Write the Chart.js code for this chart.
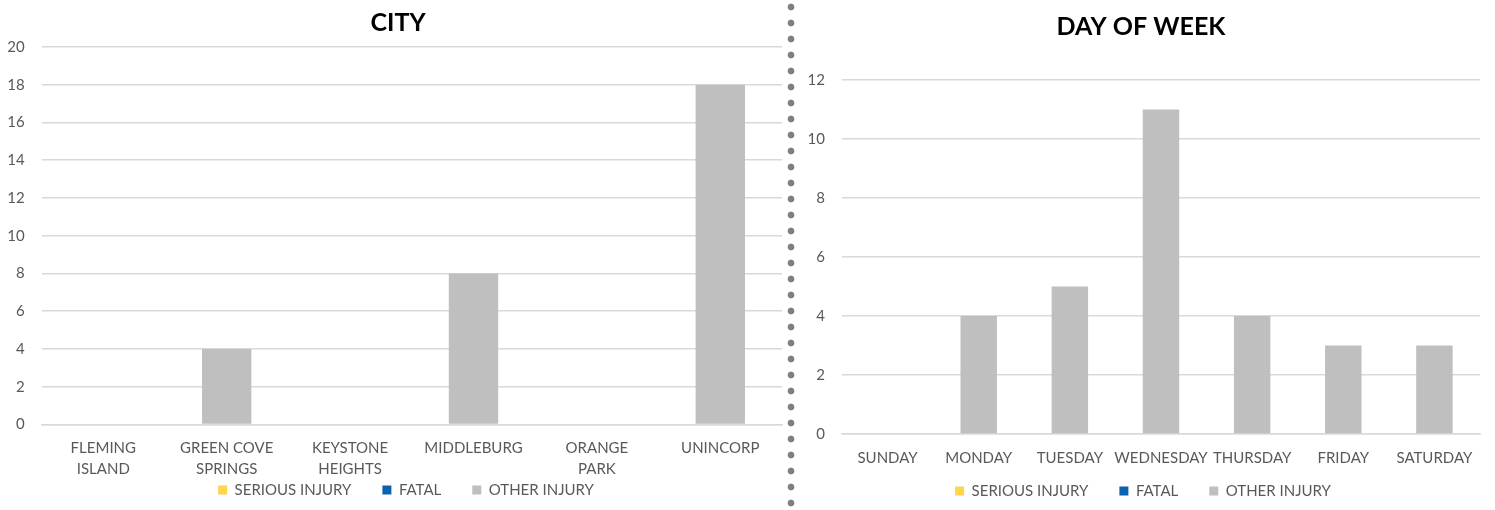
<!DOCTYPE html>
<html>
<head>
<meta charset="utf-8">
<script src="https://cdn.jsdelivr.net/npm/chart.js@4.4.1/dist/chart.umd.min.js"></script>
<style>
    html, body { margin: 0; padding: 0; background: #fff; }
    body { width: 1495px; height: 510px; position: relative; overflow: hidden; }
    .box { position: absolute; top: 0; height: 510px; }
    #cityBox { left: 0; width: 790px; }
    #dayBox { left: 800px; width: 695px; }
    .dots {
        position: absolute; left: 787px; top: -1px; width: 8px; height: 511px;
        background-image: radial-gradient(circle, #808080 3.1px, rgba(128,128,128,0) 3.7px);
        background-size: 8px 16px;
    }
</style>
</head>
<body>
<div class="box" id="cityBox"><canvas id="cityChart"></canvas></div>
<div class="dots"></div>
<div class="box" id="dayBox"><canvas id="dayChart"></canvas></div>
<script>
const SERIES_NAMES = ["SERIOUS INJURY", "FATAL", "OTHER INJURY"];
const SERIES_COLORS = ["#FFD44F", "#0B63B0", "#BFBFBF"];

const cityLabels = [["FLEMING", "ISLAND"], ["GREEN COVE", "SPRINGS"], ["KEYSTONE", "HEIGHTS"], "MIDDLEBURG", ["ORANGE", "PARK"], "UNINCORP"];
const citySerious = [0, 0, 0, 0, 0, 0];
const cityFatal = [0, 0, 0, 0, 0, 0];
const cityOther = [0, 4, 0, 8, 0, 18];

const dayLabels = ["SUNDAY", "MONDAY", "TUESDAY", "WEDNESDAY", "THURSDAY", "FRIDAY", "SATURDAY"];
const daySerious = [0, 0, 0, 0, 0, 0, 0];
const dayFatal = [0, 0, 0, 0, 0, 0, 0];
const dayOther = [0, 4, 5, 11, 4, 3, 3];

const FONT = "Lato, 'Open Sans', sans-serif";
const TEXT = "#595959";
const GRID = "#d9d9d9";

// legend padding also pushes the row down, so lift it back up after layout;
// also nudge title/legend sideways to sit where the original has them
const boxNudge = {
    id: "boxNudge",
    afterLayout(chart, args, opts) {
        const lg = chart.legend;
        if (lg) {
            lg.top -= opts.legendDy;
            lg.bottom -= opts.legendDy;
            lg.left += opts.legendDx;
            lg.right += opts.legendDx;
        }
        const tb = chart.titleBlock;
        if (tb) {
            tb.left += opts.titleDx;
            tb.right += opts.titleDx;
        }
    }
};

function buildChart(id, cfg) {
    const datasets = [cfg.serious, cfg.fatal, cfg.other].map((vals, i) => ({
        label: SERIES_NAMES[i],
        data: vals,
        backgroundColor: SERIES_COLORS[i],
        borderWidth: 0,
        barPercentage: 0.4,
        categoryPercentage: 1
    }));

    return new Chart(document.getElementById(id), {
        type: "bar",
        data: { labels: cfg.labels, datasets },
        plugins: [boxNudge],
        options: {
            responsive: true,
            maintainAspectRatio: false,
            animation: false,
            layout: { padding: { left: 0, right: cfg.padRight, top: 0, bottom: cfg.padBottom } },
            plugins: {
                tooltip: { enabled: false },
                boxNudge: { legendDy: cfg.legendDy, legendDx: cfg.legendDx, titleDx: cfg.titleDx },
                title: {
                    display: true,
                    text: cfg.title,
                    color: "#000",
                    font: { family: FONT, size: 25, weight: "bold" },
                    padding: { top: cfg.titleTop, bottom: cfg.titleBottom }
                },
                legend: {
                    position: "bottom",
                    labels: {
                        color: TEXT,
                        font: { family: FONT, size: 15 },
                        boxWidth: 9,
                        boxHeight: 9,
                        padding: 31
                    }
                }
            },
            scales: {
                x: {
                    stacked: true,
                    grid: { display: false },
                    border: { display: true, color: GRID, width: 1.5 },
                    ticks: { color: TEXT, font: { family: FONT, size: 15, lineHeight: 1.4 }, padding: cfg.xPad, maxRotation: 0, autoSkip: false },
                    afterFit: (s) => { s.height = cfg.xHeight; }
                },
                y: {
                    stacked: true,
                    min: 0,
                    max: cfg.max,
                    grid: { color: GRID, lineWidth: 1.5, drawTicks: false },
                    border: { display: false },
                    ticks: { stepSize: 2, color: TEXT, font: { family: FONT, size: 15 }, padding: 17 },
                    afterFit: (s) => { s.width = cfg.yWidth; }
                }
            }
        }
    });
}

buildChart("cityChart", {
    title: "CITY", labels: cityLabels,
    serious: citySerious, fatal: cityFatal, other: cityOther,
    max: 20, padRight: 8, yWidth: 41.6, xPad: 5,
    titleTop: 8, titleBottom: 9, xHeight: 56, padBottom: -26.4,
    legendDy: 28.9, legendDx: 15, titleDx: 7
});

buildChart("dayChart", {
    title: "DAY OF WEEK", labels: dayLabels,
    serious: daySerious, fatal: dayFatal, other: dayOther,
    max: 12, padRight: 15, yWidth: 42, xPad: 6,
    titleTop: 12, titleBottom: 38, xHeight: 46, padBottom: -26,
    legendDy: 27.5, legendDx: 3, titleDx: 1
});
</script>
</body>
</html>
